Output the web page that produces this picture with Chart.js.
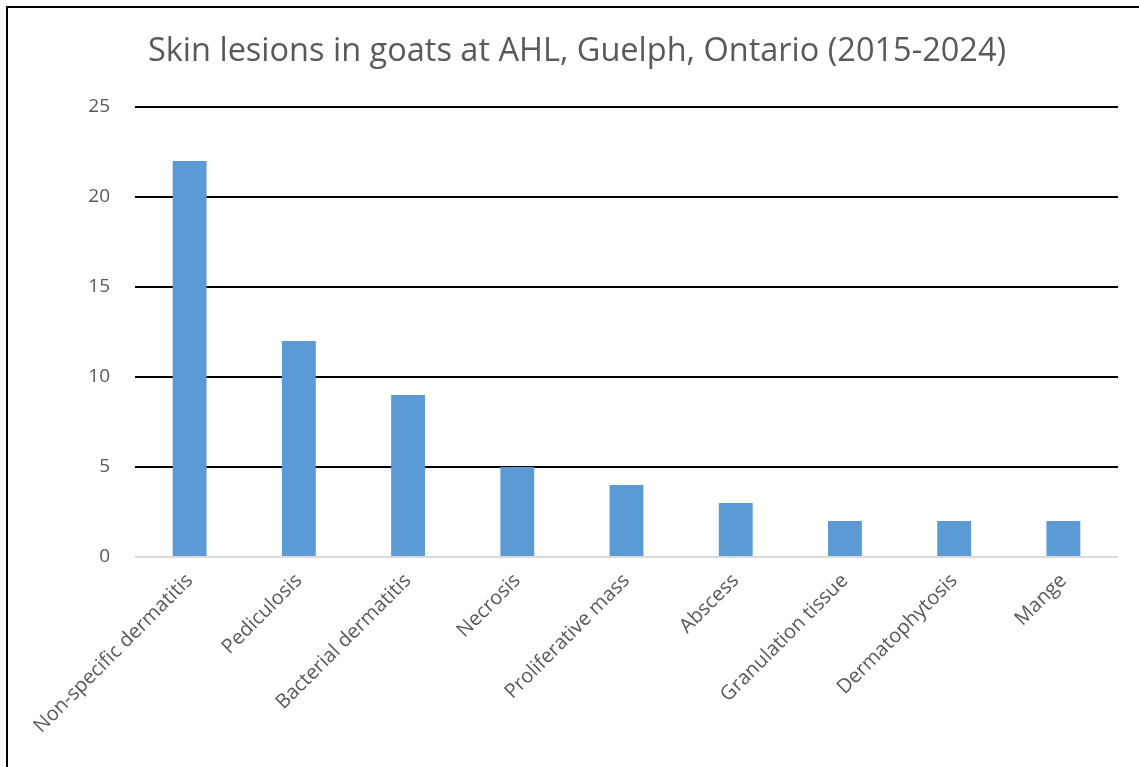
<!DOCTYPE html>
<html>
<head>
<meta charset="utf-8">
<script src="https://cdn.jsdelivr.net/npm/chart.js@4.4.1/dist/chart.umd.min.js"></script>
<style>
  html, body { margin: 0; padding: 0; background: #fff; overflow: hidden; }
  .frame {
    position: absolute; left: 6px; top: 6px;
    width: 1150px; height: 780px;
    border-left: 2px solid #000; border-top: 2px solid #000;
  }
  .frame canvas { position: absolute; left: 0; top: 0; }
</style>
</head>
<body>
<div class="frame"><canvas id="chartLesions" width="1138" height="762"></canvas></div>
<script>
// Donnees
const categories = [
  'Non-specific dermatitis', 'Pediculosis', 'Bacterial dermatitis', 'Necrosis',
  'Proliferative mass', 'Abscess', 'Granulation tissue', 'Dermatophytosis', 'Mange'
];
const cases = [22, 12, 9, 5, 4, 3, 2, 2, 2];
const yTicks = [0, 5, 10, 15, 20, 25];

const TEXT_COLOR = '#595959';
const FONT = "'Open Sans', 'Noto Sans', sans-serif";

Chart.defaults.font.family = FONT;
Chart.defaults.color = TEXT_COLOR;

new Chart(document.getElementById('chartLesions'), {
  type: 'bar',
  data: {
    labels: categories,
    datasets: [{
      data: cases,
      backgroundColor: '#5B9BD5',
      borderWidth: 0,
      categoryPercentage: 1,
      barPercentage: 0.31,
    }],
  },
  options: {
    responsive: false,
    animation: false,
    // padding symetrique pour garder le titre centre sur le cadre
    layout: { padding: { left: 28, right: 28, top: 0, bottom: 0 } },
    plugins: {
      legend: { display: false },
      tooltip: { enabled: false },
      title: {
        display: true,
        text: 'Skin lesions in goats at AHL, Guelph, Ontario (2015-2024)',
        color: TEXT_COLOR,
        font: { size: 32.5, weight: 'normal', family: FONT },
        padding: { top: 24, bottom: 36 },
      },
    },
    scales: {
      x: {
        grid: { display: false, drawTicks: false },
        border: { display: false },
        ticks: {
          color: TEXT_COLOR,
          font: { size: 20 },
          maxRotation: 45,
          minRotation: 45,
          padding: 12,
        },
        afterFit: s => { s.height = 213; },
      },
      y: {
        min: 0,
        max: 25,
        afterBuildTicks: s => { s.ticks = yTicks.map(v => ({ value: v })); },
        grid: {
          drawTicks: false,
          lineWidth: 2,
          color: ctx => (ctx.tick && ctx.tick.value === 0 ? '#D9D9D9' : '#000000'),
        },
        border: { display: false },
        ticks: { color: TEXT_COLOR, font: { size: 19 }, padding: 25 },
        afterFit: s => { s.width = 99; },
      },
    },
  },
});
</script>
</body>
</html>
